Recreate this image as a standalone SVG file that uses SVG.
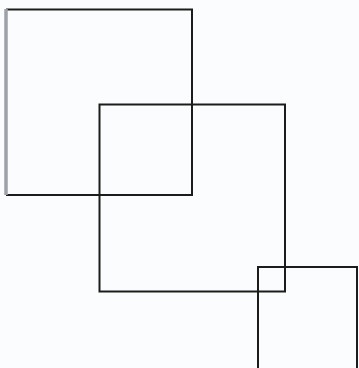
<svg xmlns="http://www.w3.org/2000/svg" width="359" height="368" viewBox="0 0 359 368">
<style>
.sq{fill:none;stroke:#1c1c1c;stroke-width:2}
</style>
<rect x="0" y="0" width="359" height="368" fill="#fbfcfd"/>
<g id="square1">
<path class="sq" d="M6 9.5 H192 V195 H6"/>
<line x1="6" y1="9" x2="6" y2="195" stroke="#9ea2a8" stroke-width="3.5"/>
</g>
<g id="square2">
<rect class="sq" x="99.5" y="104.5" width="185.5" height="187"/>
</g>
<g id="square3">
<rect class="sq" x="258" y="267" width="99" height="110"/>
</g>
<g id="connectors"></g>
</svg>
